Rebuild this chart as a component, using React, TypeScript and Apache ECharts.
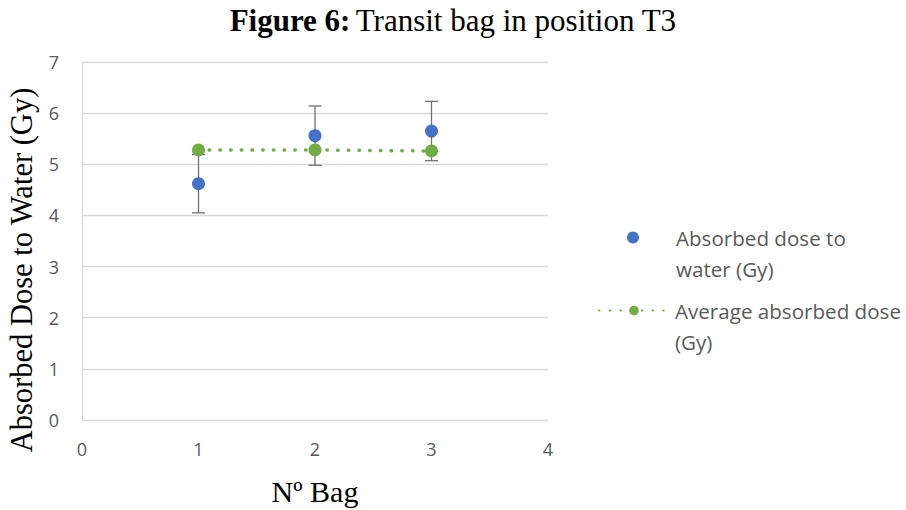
import React, { useEffect, useRef } from "react";
import * as echarts from "echarts";

const bags = [1, 2, 3];
const doseValues = [4.62, 5.56, 5.65];
const doseErrors = [0.57, 0.58, 0.58];
const averageValues = [5.28, 5.28, 5.26];
const doseName = "Absorbed dose to water (Gy)";
const avgName = "Average absorbed dose (Gy)";
const doseLegendLabel = "\nAbsorbed dose to\nwater (Gy)";
const avgLegendLabel = "\nAverage absorbed dose\n(Gy)";

const SANS = "'Open Sans', 'Liberation Sans', sans-serif";
const SERIF = "'Liberation Serif', 'DejaVu Serif', serif";

export default function App() {
  const ref = useRef<HTMLDivElement>(null);
  useEffect(() => {
    if (!ref.current) return;
    const chart = echarts.init(ref.current, undefined, { renderer: "svg" });
    const errData = bags.map((b, i) => [b, doseValues[i] - doseErrors[i], doseValues[i] + doseErrors[i]]);
    chart.setOption({
      animation: false,
      backgroundColor: "#ffffff",
      title: {
        text: "{b|Figure 6:} {n|Transit bag in position T3}",
        left: "center",
        top: 0,
        textStyle: {
          rich: {
            b: { fontFamily: SERIF, fontSize: 31, fontWeight: "bold", color: "#000" },
            n: { fontFamily: SERIF, fontSize: 31, fontWeight: "normal", color: "#000" },
          },
        },
      },
      grid: { left: 82, right: 358, top: 62, bottom: 90, outerBoundsMode: "none", containLabel: false },
      xAxis: {
        type: "value",
        min: 0,
        max: 4,
        interval: 1,
        name: "Nº Bag",
        nameLocation: "middle",
        nameGap: 56,
        nameTextStyle: { fontFamily: SERIF, fontSize: 30, color: "#000" },
        axisLine: { show: false },
        axisTick: { show: false },
        splitLine: { show: false },
        axisLabel: { fontFamily: SANS, fontSize: 18, color: "#595959", margin: 20 },
      },
      yAxis: {
        type: "value",
        min: 0,
        max: 7,
        interval: 1,
        name: "Absorbed Dose to Water (Gy)",
        nameLocation: "middle",
        nameGap: 37,
        nameTextStyle: { fontFamily: SERIF, fontSize: 30.5, color: "#000", padding: [0, 58, 0, 0] },
        axisLine: { show: true, lineStyle: { color: "#D9D9D9", width: 1.3 } },
        axisTick: { show: false },
        splitLine: { show: true, lineStyle: { color: "#D9D9D9", width: 1.3 } },
        axisLabel: { fontFamily: SANS, fontSize: 18, color: "#595959", margin: 23 },
      },
      legend: [
        {
          data: [doseName],
          orient: "vertical",
          left: 627,
          top: 191,
          padding: 0,
          itemWidth: 12,
          itemHeight: 12,
          itemGap: 0,
          formatter: () => doseLegendLabel,
          textStyle: { fontFamily: SANS, fontSize: 20.6, color: "#595959", lineHeight: 31, padding: [0, 0, 0, 32] },
          selectedMode: false,
        },
        {
          data: [avgName],
          orient: "vertical",
          left: 598,
          top: 264,
          padding: 0,
          itemWidth: 70,
          itemHeight: 12,
          itemGap: 0,
          formatter: () => avgLegendLabel,
          textStyle: { fontFamily: SANS, fontSize: 20.6, color: "#595959", lineHeight: 31, padding: [0, 0, 0, 1] },
          selectedMode: false,
        },
      ],
      series: [
        {
          type: "custom",
          name: "errors",
          data: errData,
          z: 1,
          renderItem: (params: any, api: any) => {
            const x = api.value(0);
            const lo = api.coord([x, api.value(1)]);
            const hi = api.coord([x, api.value(2)]);
            const cap = 6.5;
            const style = { stroke: "#707070", lineWidth: 1.3 };
            return {
              type: "group",
              children: [
                { type: "line", shape: { x1: lo[0], y1: lo[1], x2: hi[0], y2: hi[1] }, style },
                { type: "line", shape: { x1: lo[0] - cap, y1: lo[1], x2: lo[0] + cap, y2: lo[1] }, style },
                { type: "line", shape: { x1: hi[0] - cap, y1: hi[1], x2: hi[0] + cap, y2: hi[1] }, style },
              ],
            };
          },
        },
        {
          type: "scatter",
          name: doseName,
          data: bags.map((b, i) => [b, doseValues[i]]),
          symbol: "circle",
          symbolSize: 13,
          itemStyle: { color: "#4472C4", opacity: 1 },
          z: 3,
        },
        {
          type: "line",
          name: avgName,
          data: bags.map((b, i) => [b, averageValues[i]]),
          symbol: "circle",
          symbolSize: 13,
          showSymbol: true,
          itemStyle: { color: "#70AD47" },
          lineStyle: { color: "#70AD47", width: 3.5, type: [0.5, 10.2], cap: "round" },
          z: 4,
        },
      ],
    });
    return () => chart.dispose();
  }, []);
  return <div ref={ref} style={{ width: 906, height: 510, position: "absolute", left: 0, top: 0 }} />;
}
